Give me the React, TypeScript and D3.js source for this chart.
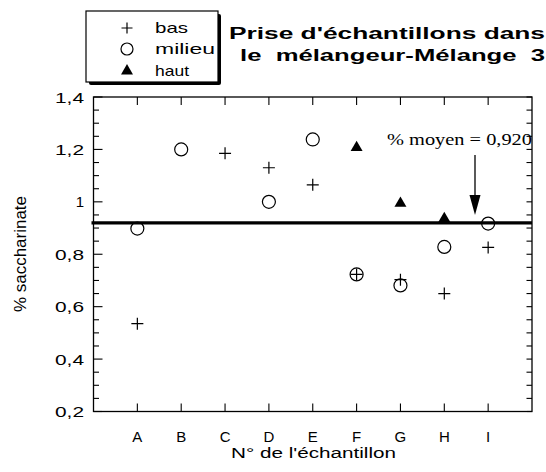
import * as d3 from 'd3';

const categories = ['A', 'B', 'C', 'D', 'E', 'F', 'G', 'H', 'I'];
const basValues: (number | null)[] = [0.535, null, 1.185, 1.13, 1.065, 0.723, 0.703, 0.65, 0.826];
const milieuValues: (number | null)[] = [0.898, 1.2, null, 1.0, 1.238, 0.723, 0.681, 0.828, 0.917];
const hautValues: (number | null)[] = [null, null, null, null, null, 1.207, 0.994, 0.936, null];
const yTicks = [0.2, 0.4, 0.6, 0.8, 1.0, 1.2, 1.4];
const yTickLabels = ['0,2', '0,4', '0,6', '0,8', '1', '1,2', '1,4'];
const meanValue = 0.92;

const W = 546;
const H = 472;
const SANS = '"Liberation Sans", Arial, Helvetica, sans-serif';
const SERIF = '"Liberation Serif", "Times New Roman", serif';

export default function App() {
  const x = d3.scaleLinear().domain([0, categories.length + 1]).range([93.5, 532]);
  const y = d3.scaleLinear().domain([0.2, 1.4]).range([411.5, 97]);
  const [x0, x1] = x.range();
  const [yb, yt] = y.range();
  const minor = d3.range(0.2, 1.4001, 0.05);

  const plus = (cx: number, cy: number, s = 6) => `M${cx - s},${cy}H${cx + s}M${cx},${cy - s}V${cy + s}`;
  const tri = d3.symbol().type(d3.symbolTriangle).size(62);

  const meanY = y(meanValue);
  const arrowX = 475;

  return (
    <svg width={W} height={H} style={{ position: 'absolute', left: 0, top: 0, background: '#fff' }}>
      {/* legend box with drop shadow */}
      <rect x={89} y={14} width={132} height={71} rx={2} fill="#000" />
      <rect x={86} y={11} width={132} height={71} fill="#fff" stroke="#000" strokeWidth={1.2} />
      <path d={plus(127, 28, 5.5)} stroke="#000" strokeWidth={1.2} fill="none" />
      <text x={155} y={33} fontFamily={SANS} fontSize={15} textLength={33} lengthAdjust="spacingAndGlyphs">bas</text>
      <circle cx={127} cy={49} r={6} fill="none" stroke="#000" strokeWidth={1.2} />
      <text x={155} y={54} fontFamily={SANS} fontSize={15} textLength={60} lengthAdjust="spacingAndGlyphs">milieu</text>
      <path d={tri() || ''} transform="translate(127,71)" fill="#000" />
      <text x={155} y={76} fontFamily={SANS} fontSize={15} textLength={34} lengthAdjust="spacingAndGlyphs">haut</text>

      {/* title */}
      <text x={229} y={38.5} fontFamily={SANS} fontSize={16} fontWeight="bold" textLength={316} lengthAdjust="spacingAndGlyphs">Prise d'échantillons dans</text>
      <text x={240} y={61} fontFamily={SANS} fontSize={16} fontWeight="bold" textLength={305} lengthAdjust="spacingAndGlyphs" style={{ whiteSpace: 'pre' }}>le  mélangeur-Mélange  3</text>

      {/* frame */}
      <rect x={x0} y={yt} width={x1 - x0} height={yb - yt} fill="none" stroke="#000" strokeWidth={1.3} />

      {/* y ticks */}
      {minor.map((v, i) => {
        const major = i % 4 === 0;
        const len = major ? 9 : 5.5;
        return (
          <g key={'yt' + i}>
            <line x1={x0} x2={x0 + len} y1={y(v)} y2={y(v)} stroke="#000" strokeWidth={1.1} />
            <line x1={x1} x2={x1 - 5.5} y1={y(v)} y2={y(v)} stroke="#000" strokeWidth={1.1} />
          </g>
        );
      })}
      {yTicks.map((v, i) => (
        <text key={'yl' + i} x={84} y={y(v) + 5.5} textAnchor="end" fontFamily={SANS} fontSize={15}
          textLength={yTickLabels[i].length > 1 ? 29 : undefined} lengthAdjust="spacingAndGlyphs">
          {yTickLabels[i]}
        </text>
      ))}

      {/* x ticks */}
      {categories.map((c, i) => (
        <g key={'xt' + c}>
          <line x1={x(i + 1)} x2={x(i + 1)} y1={yt} y2={yt + 8} stroke="#000" strokeWidth={1.1} />
          <line x1={x(i + 1)} x2={x(i + 1)} y1={yb} y2={yb - 8} stroke="#000" strokeWidth={1.1} />
          <text x={x(i + 1)} y={442} textAnchor="middle" fontFamily={SANS} fontSize={15}>{c}</text>
        </g>
      ))}

      {/* axis titles */}
      <text x={231} y={458} fontFamily={SANS} fontSize={14} textLength={165} lengthAdjust="spacingAndGlyphs">N° de l'échantillon</text>
      <text transform="translate(26,254) rotate(-90)" textAnchor="middle" fontFamily={SANS} fontSize={17}
        textLength={116} lengthAdjust="spacingAndGlyphs">% saccharinate</text>

      {/* mean line */}
      <line x1={x0 - 2} x2={x1} y1={meanY} y2={meanY} stroke="#000" strokeWidth={3.2} />

      {/* annotation */}
      <text x={387} y={145} fontFamily={SERIF} fontSize={17} textLength={145} lengthAdjust="spacingAndGlyphs">% moyen = 0,920</text>
      <line x1={arrowX} x2={arrowX} y1={155} y2={197} stroke="#000" strokeWidth={1.3} />
      <path d={`M${arrowX - 5.5},195L${arrowX + 5.5},195L${arrowX},215Z`} fill="#000" />

      {/* data */}
      {milieuValues.map((v, i) => v == null ? null : (
        <circle key={'m' + i} cx={x(i + 1)} cy={y(v)} r={6.5} fill="none" stroke="#000" strokeWidth={1.2} />
      ))}
      {basValues.map((v, i) => v == null ? null : (
        <path key={'b' + i} d={plus(x(i + 1), y(v))} stroke="#000" strokeWidth={1.2} fill="none" />
      ))}
      {hautValues.map((v, i) => v == null ? null : (
        <path key={'h' + i} d={tri() || ''} transform={`translate(${x(i + 1)},${y(v)})`} fill="#000" />
      ))}
    </svg>
  );
}
